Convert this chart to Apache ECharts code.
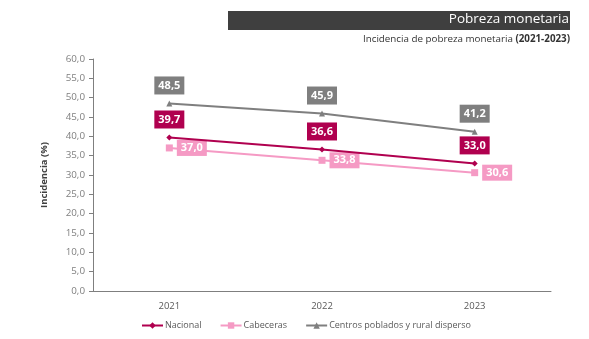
<!DOCTYPE html>
<html>
<head>
<meta charset="utf-8">
<script src="https://cdn.jsdelivr.net/npm/echarts@6/dist/echarts.min.js"></script>
<style>
  html, body { margin: 0; padding: 0; background: #fff; }
  #chart { width: 589px; height: 339px; }
</style>
</head>
<body>
<div id="chart"></div>
<script>
// Poverty incidence by area, 2021-2023
const years = ['2021', '2022', '2023'];
const nacional = [39.7, 36.6, 33.0];
const cabeceras = [37.0, 33.8, 30.6];
const centros = [48.5, 45.9, 41.2];

const FONT = '"Open Sans", "Noto Sans", sans-serif';
const fmt = v => v.toFixed(1).replace('.', ',');

function labelStyle(color, position) {
  return {
    show: true,
    position: position,
    distance: 6,
    formatter: p => fmt(p.value),
    color: '#fff',
    fontFamily: FONT,
    fontWeight: 'bold',
    fontSize: 11,
    backgroundColor: color,
    padding: [4, 4, 3, 4]
  };
}

const chart = echarts.init(document.getElementById('chart'), null, { renderer: 'canvas' });
chart.setOption({
  animation: false,
  textStyle: { fontFamily: FONT },
  graphic: [
    { type: 'rect', shape: { x: 228, y: 11, width: 342, height: 19 }, style: { fill: '#3f3f3f' } },
    { type: 'text', right: 20, top: 12, style: { text: 'Pobreza monetaria', fill: '#fff', font: '13.5px ' + FONT } },
    { type: 'text', right: 19, top: 34, style: { rich: { n: { fontSize: 9.8, fontFamily: FONT, fill: '#333' }, b: { fontSize: 9.8, fontFamily: FONT, fontWeight: 'bold', fill: '#333' } }, text: '{n|Incidencia de pobreza monetaria }{b|(2021-2023)}' } }
  ],
  grid: { left: 93, right: 38, top: 59, bottom: 48 },
  xAxis: {
    type: 'category',
    data: years,
    boundaryGap: true,
    axisLine: { lineStyle: { color: '#7f7f7f', width: 1 } },
    axisTick: { show: false },
    axisLabel: { color: '#595959', fontSize: 9.5, margin: 10 }
  },
  yAxis: {
    type: 'value',
    min: 0, max: 60, interval: 5,
    name: 'Incidencia (%)',
    nameLocation: 'middle',
    nameGap: 44,
    nameTextStyle: { fontSize: 9.5, fontWeight: 'bold', color: '#404040' },
    axisLine: { show: true, lineStyle: { color: '#7f7f7f' } },
    axisTick: { show: true, length: 4, lineStyle: { color: '#7f7f7f' } },
    axisLabel: { color: '#7f7f7f', fontSize: 9.8, margin: 8, formatter: v => fmt(v) },
    splitLine: { show: false }
  },
  legend: {
    bottom: 4,
    left: 136,
    itemWidth: 21, itemHeight: 8, itemGap: 18,
    textStyle: { color: '#595959', fontSize: 9, padding: [0, 0, 0, -3] },
    data: ['Nacional', 'Cabeceras', 'Centros poblados y rural disperso']
  },
  series: [
    {
      name: 'Centros poblados y rural disperso', type: 'line', data: centros,
      color: '#7f7f7f', symbol: 'triangle', symbolSize: 6,
      lineStyle: { width: 2 },
      label: labelStyle('#7f7f7f', 'top'), z: 3
    },
    {
      name: 'Cabeceras', type: 'line', data: cabeceras,
      color: '#f59ac4', symbol: 'rect', symbolSize: 7,
      lineStyle: { width: 2 },
      label: Object.assign(labelStyle('#f59ac4', 'right'), { distance: 4, padding: [3, 4, 2, 4] }), z: 3
    },
    {
      name: 'Nacional', type: 'line', data: nacional,
      color: '#b0004f', symbol: 'diamond', symbolSize: 6,
      lineStyle: { width: 2 },
      label: labelStyle('#b0004f', 'top'), z: 4
    }
  ]
});
</script>
</body>
</html>
